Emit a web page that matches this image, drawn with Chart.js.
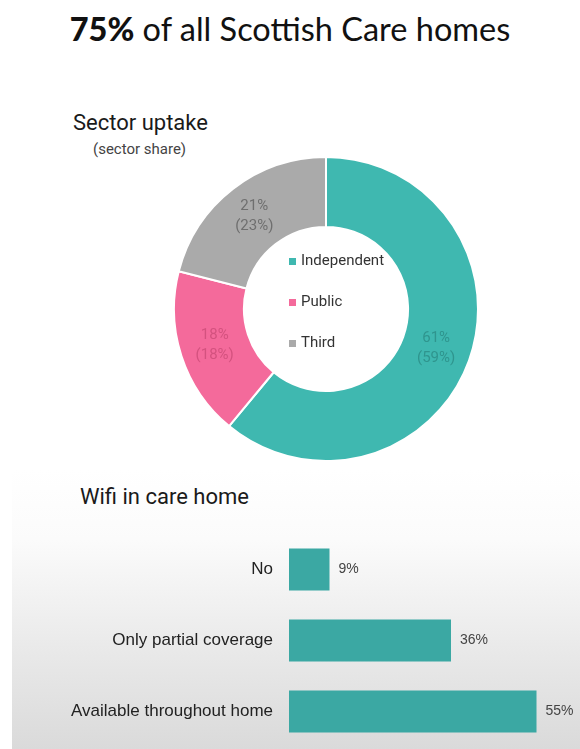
<!DOCTYPE html>
<html>
<head>
<meta charset="utf-8">
<script src="https://cdn.jsdelivr.net/npm/chart.js@4.4.1/dist/chart.umd.min.js"></script>
<style>
  html, body { margin: 0; padding: 0; width: 580px; height: 749px; background: #fff; overflow: hidden; }
  body { position: relative; font-family: Roboto, 'Liberation Sans', sans-serif; color: #222; }
  .title { position: absolute; left: 0; top: 9px; width: 580px; text-align: center; font-family: Lato, 'Open Sans', sans-serif; font-size: 32.5px; color: #111; white-space: nowrap; }
  .title b { font-weight: 900; }
  .sub1 { position: absolute; left: 73px; top: 112px; font-size: 22px; line-height: 1; color: #1a1a1a; }
  .sub2 { position: absolute; left: 93px; top: 142px; font-size: 15px; line-height: 1; color: #444; }
  .panel { position: absolute; left: 12px; top: 470px; width: 568px; height: 279px; background: linear-gradient(#ffffff 0%, #fbfbfb 25%, #e9e9e9 65%, #dadada 100%); }
  .sub3 { position: absolute; left: 80px; top: 486px; font-size: 22px; line-height: 1; color: #1a1a1a; }
  #donut { position: absolute; left: 173px; top: 156px; }
  #bars { position: absolute; left: 0; top: 530px; }
</style>
</head>
<body>
<div class="title"><b>75%</b> of all Scottish Care homes</div>
<div class="sub1">Sector uptake</div>
<div class="sub2">(sector share)</div>
<canvas id="donut" width="306" height="306"></canvas>
<div class="panel"></div>
<div class="sub3">Wifi in care home</div>
<canvas id="bars" width="580" height="219"></canvas>
<script>
// 数据
const sectors = ['Independent', 'Public', 'Third'];
const sectorUptake = [61, 18, 21];
const sectorShare = [59, 18, 23];

const wifiLabels = ['No', 'Only partial coverage', 'Available throughout home'];
const wifiValues = [9, 36, 55];

// 样式
const FONT = "Roboto, 'Liberation Sans', sans-serif";
const BAR_FONT = "'Liberation Sans', Arial, sans-serif";
const sectorColours = ['#3fb8b0', '#f46a9b', '#aaaaaa'];
const sectorText = ['#2f958e', '#d4527f', '#6f6f6f'];
const barColour = '#3ba8a3';

// 扇区上的百分比
const arcLabels = {
  id: 'arcLabels',
  afterDatasetsDraw(chart) {
    const ctx = chart.ctx;
    const arcs = chart.getDatasetMeta(0).data;
    ctx.save();
    ctx.font = '15px ' + FONT;
    ctx.textAlign = 'center';
    ctx.textBaseline = 'middle';
    arcs.forEach((arc, i) => {
      const p = arc.tooltipPosition();
      ctx.fillStyle = sectorText[i];
      ctx.fillText(sectorUptake[i] + '%', p.x, p.y - 10);
      ctx.fillText('(' + sectorShare[i] + '%)', p.x, p.y + 10);
    });
    ctx.restore();
  }
};

// 圆环中间的图例
const centreLegend = {
  id: 'centreLegend',
  afterDatasetsDraw(chart) {
    const ctx = chart.ctx;
    const arc = chart.getDatasetMeta(0).data[0];
    const cx = arc.x, cy = arc.y;
    ctx.save();
    ctx.font = '15px ' + FONT;
    ctx.textAlign = 'left';
    ctx.textBaseline = 'middle';
    sectors.forEach((name, i) => {
      const y = cy - 7 + (i - 1) * 41;
      ctx.fillStyle = sectorColours[i];
      ctx.fillRect(cx - 37, y - 3, 7, 7);
      ctx.fillStyle = '#333';
      ctx.fillText(name, cx - 25, y);
    });
    ctx.restore();
  }
};

new Chart(document.getElementById('donut'), {
  type: 'doughnut',
  data: {
    labels: sectors,
    datasets: [{
      data: sectorUptake,
      backgroundColor: sectorColours,
      borderColor: '#ffffff',
      borderWidth: 2
    }]
  },
  options: {
    responsive: false,
    animation: false,
    cutout: '54%',
    plugins: { legend: { display: false }, tooltip: { enabled: false } }
  },
  plugins: [arcLabels, centreLegend]
});

// 条形末端的数值
const barValues = {
  id: 'barValues',
  afterDatasetsDraw(chart) {
    const ctx = chart.ctx;
    ctx.save();
    ctx.font = '14px ' + BAR_FONT;
    ctx.fillStyle = '#444';
    ctx.textAlign = 'left';
    ctx.textBaseline = 'middle';
    chart.getDatasetMeta(0).data.forEach((bar, i) => {
      ctx.fillText(wifiValues[i] + '%', bar.x + 9, bar.y);
    });
    ctx.restore();
  }
};

new Chart(document.getElementById('bars'), {
  type: 'bar',
  data: {
    labels: wifiLabels,
    datasets: [{
      data: wifiValues,
      backgroundColor: barColour,
      categoryPercentage: 1,
      barPercentage: 0.59
    }]
  },
  options: {
    indexAxis: 'y',
    responsive: false,
    animation: false,
    layout: { padding: { top: 4, bottom: 2, left: 0, right: 21 } },
    plugins: { legend: { display: false }, tooltip: { enabled: false } },
    scales: {
      x: { display: false, min: 0, max: 60 },
      y: {
        grid: { display: false, drawTicks: false },
        border: { display: false },
        ticks: { color: '#222', font: { family: BAR_FONT, size: 17 }, padding: 16 },
        afterFit(scale) {
          scale.width = 289;
          scale.paddingTop = 0;
          scale.paddingBottom = 0;
        }
      }
    }
  },
  plugins: [barValues]
});
</script>
</body>
</html>
